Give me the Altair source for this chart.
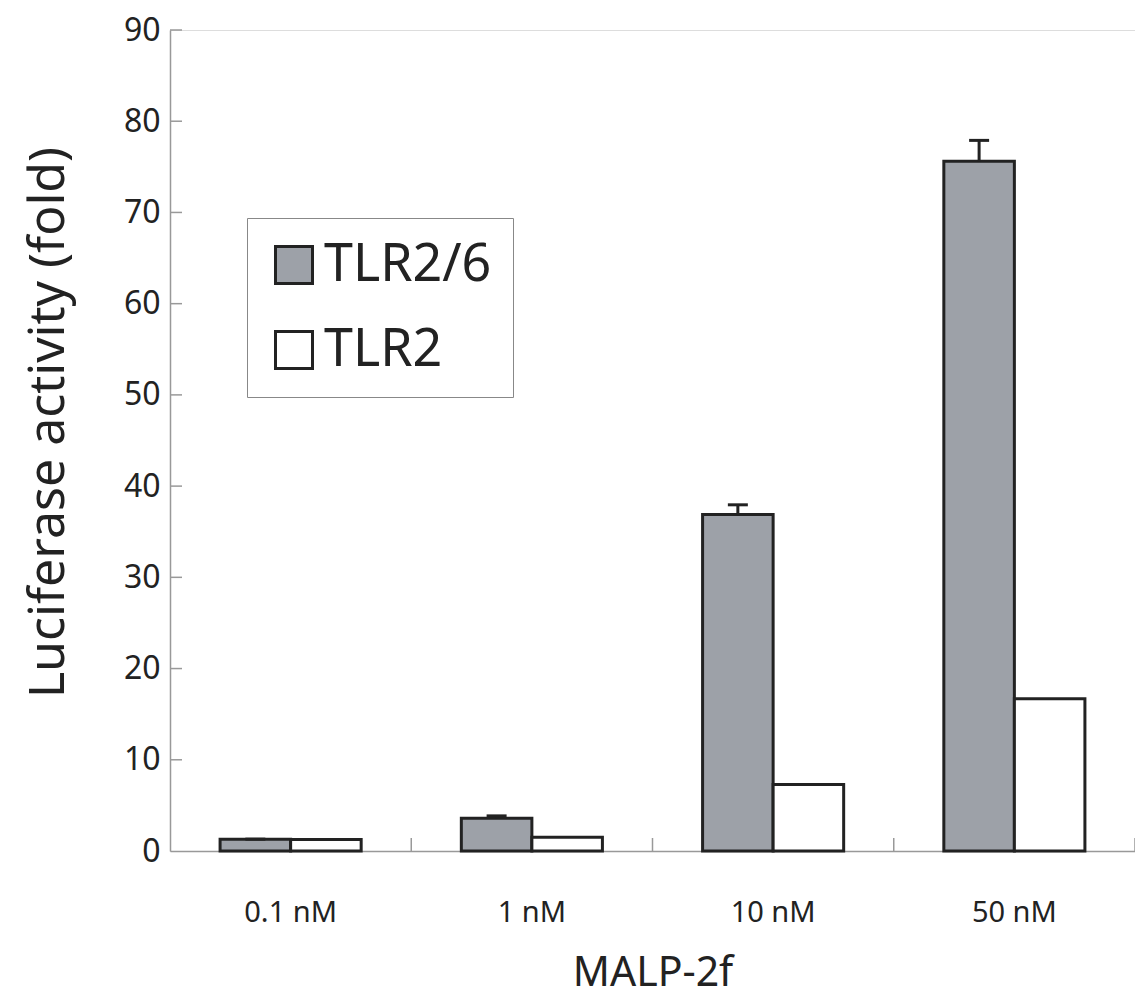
import altair as alt
import pandas as pd

concs = ["0.1 nM", "1 nM", "10 nM", "50 nM"]
series = ["TLR2/6", "TLR2"]
tlr26 = [1.3, 3.6, 36.9, 75.6]
tlr2 = [1.25, 1.5, 7.3, 16.7]
tlr26_err = [0.0, 0.25, 1.05, 2.3]
y_ticks = [10, 20, 30, 40, 50, 60, 70, 80, 90]

FONT = "Noto Sans"
W, H = 965, 821

rows = []
for c, a, b in zip(concs, tlr26, tlr2):
    rows.append({"conc": c, "series": "TLR2/6", "value": a})
    rows.append({"conc": c, "series": "TLR2", "value": b})
bars_df = pd.DataFrame(rows)
err_df = pd.DataFrame({"conc": concs, "series": ["TLR2/6"] * 4, "value": tlr26,
                       "hi": [v + e for v, e in zip(tlr26, tlr26_err)]})
yt_df = pd.DataFrame({"v": y_ticks})
xt_df = pd.DataFrame({"conc": concs})

x_enc = alt.X("conc:N", sort=concs,
              scale=alt.Scale(paddingInner=0, paddingOuter=0),
              axis=alt.Axis(title="MALP-2f", labelAngle=0, ticks=False,
                            domainColor="#999", domainWidth=1.5,
                            labelFont=FONT, labelFontSize=29, labelColor="#222",
                            labelPadding=47, titleFont=FONT, titleFontSize=41,
                            titleFontWeight="normal", titleColor="#222",
                            titlePadding=26))
xo_enc = alt.XOffset("series:N", sort=series,
                     scale=alt.Scale(domain=series, paddingInner=0, paddingOuter=0.71))
y_scale = alt.Scale(domain=[0, 90], nice=False)

bars = alt.Chart(bars_df).mark_bar(stroke="#222", strokeWidth=3).encode(
    x=x_enc,
    xOffset=xo_enc,
    y=alt.Y("value:Q", scale=y_scale,
            axis=alt.Axis(title="Luciferase activity (fold)", values=[0] + y_ticks,
                          ticks=False, grid=False, domainColor="#999", domainWidth=1.5,
                          labelFont=FONT, labelFontSize=32, labelColor="#222",
                          labelPadding=10, titleFont=FONT, titleFontSize=50,
                          titleFontWeight="normal", titleColor="#222",
                          titlePadding=50, titleY=392)),
    fill=alt.Fill("series:N", sort=series,
                  scale=alt.Scale(domain=series, range=["#9da1a8", "#ffffff"]),
                  legend=alt.Legend(title=None, orient="none", legendX=77, legendY=188,
                                    symbolType="square", symbolSize=1369,
                                    symbolStrokeWidth=3, symbolStrokeColor="#222",
                                    symbolOpacity=1, labelLimit=0,
                                    labelFont=FONT, labelFontSize=52, labelColor="#222",
                                    labelOffset=4, padding=21, rowPadding=33,
                                    strokeColor="#888", fillColor="#ffffff")),
)

err_rule = alt.Chart(err_df).mark_rule(color="#222", strokeWidth=3).encode(
    x=alt.X("conc:N", sort=concs),
    xOffset=alt.XOffset("series:N", sort=series),
    y=alt.Y("value:Q", scale=y_scale),
    y2="hi:Q",
)
err_cap = alt.Chart(err_df).mark_tick(color="#222", thickness=3, size=20,
                                      orient="horizontal", opacity=1).encode(
    x=alt.X("conc:N", sort=concs),
    xOffset=alt.XOffset("series:N", sort=series),
    y=alt.Y("hi:Q", scale=y_scale),
)

y_tick_marks = alt.Chart(yt_df).mark_rule(color="#999", strokeWidth=1.5).encode(
    x=alt.value(0), x2=alt.value(12),
    y=alt.Y("v:Q", scale=y_scale),
)
x_tick_marks = alt.Chart(xt_df).mark_rule(color="#999", strokeWidth=1.5).encode(
    x=alt.X("conc:N", sort=concs, bandPosition=1),
    y=alt.value(H - 13), y2=alt.value(H),
)

chart = alt.layer(bars, err_rule, err_cap, y_tick_marks, x_tick_marks).properties(
    width=W, height=H,
    autosize=alt.AutoSizeParams(type="none"),
    padding={"left": 162, "top": 22, "right": 0, "bottom": 145},
).configure_view(stroke=None).configure(background="#ffffff")

chart.save("out.html", embed_options={"renderer": "svg", "actions": False})
